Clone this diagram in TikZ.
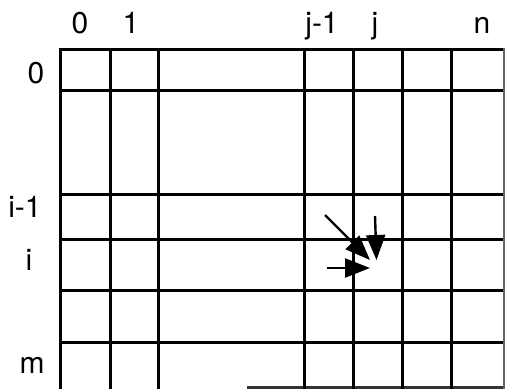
\documentclass[tikz,border=0pt]{standalone}
\usepackage{fontspec}
\setmainfont{TeX Gyre Heros}
\usetikzlibrary{arrows.meta}
\tikzset{
  gridline/.style={line width=3pt, line cap=butt},
  lbl/.style={anchor=base, inner sep=0pt, font=\fontsize{30}{36}\selectfont},
  dparrow/.style={line width=2.4pt, -{Triangle[length=25pt,width=19pt]}}
}
\begin{document}
\begin{tikzpicture}[x=1pt,y=-1pt]
\useasboundingbox (0,0) rectangle (505,388);
% horizontal grid lines
\foreach \y in {49.5,90,194.5,239,290,342} {
  \draw[gridline] (59,\y) -- (506,\y);
}
\draw[gridline, black!80] (247,387.5) -- (506,387.5);
% vertical grid lines
\foreach \x in {60.5,110.5,158.5,304,353,402,451.5} {
  \draw[gridline] (\x,48) -- (\x,390);
}
\draw[gridline, black!60] (504.5,48) -- (504.5,390);
% column labels
\node[lbl] (c0) at (80,33) {0};
\node[lbl] (c1) at (131,33) {1};
\node[lbl] (cj1) at (322,33) {j-1};
\node[lbl] (cj) at (375,33) {j};
\node[lbl] (cn) at (482,33) {n};
% row labels
\node[lbl] (r0) at (36,83) {0};
\node[lbl] (ri1) at (25,217) {i-1};
\node[lbl] (ri) at (29,270) {i};
\node[lbl] (rm) at (32,373) {m};
% arrows
\coordinate (dS) at (325,215);
\coordinate (dT) at (370,260);
\coordinate (vS) at (375,216);
\coordinate (vT) at (376.5,260);
\coordinate (hS) at (326.5,268);
\coordinate (hT) at (370,268);
\draw[dparrow] (dS) -- (dT);
\draw[dparrow] (vS) -- (vT);
\draw[dparrow] (hS) -- (hT);
\end{tikzpicture}
\end{document}
